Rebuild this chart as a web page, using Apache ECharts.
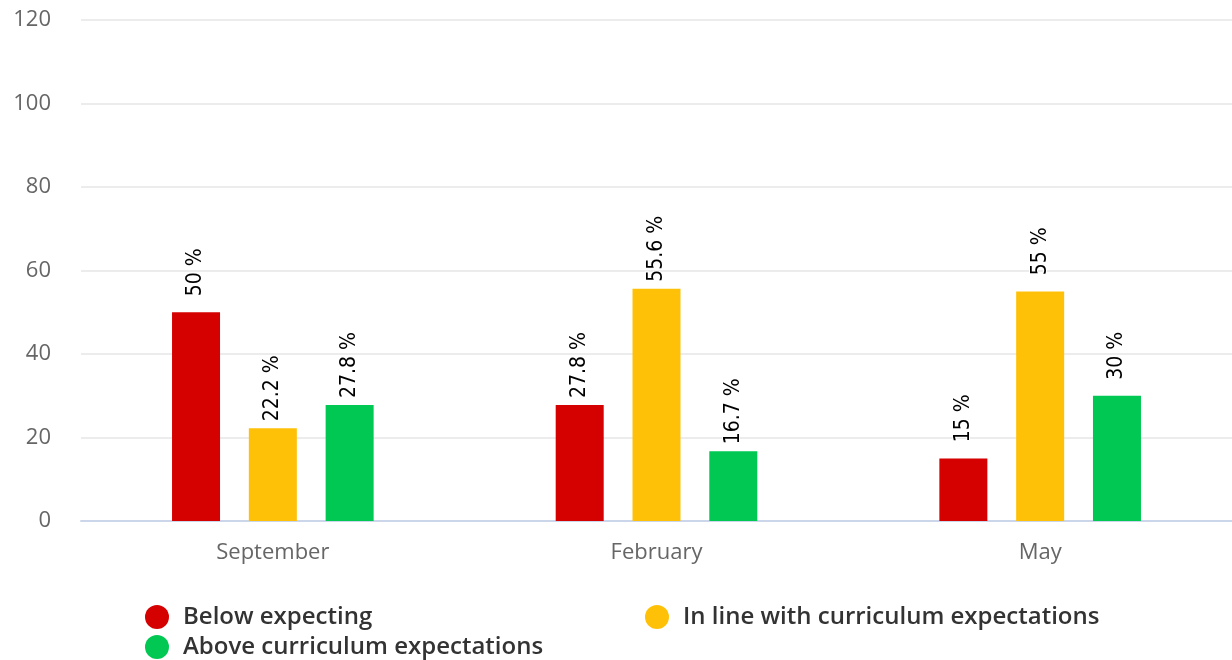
<!DOCTYPE html>
<html>
<head>
<meta charset="utf-8">
<script src="https://cdn.jsdelivr.net/npm/echarts@6/dist/echarts.min.js"></script>
<style>html,body{margin:0;padding:0;background:#fff}#c{width:1232px;height:660px}</style>
</head>
<body>
<div id="c"></div>
<script>
var categories = ['September', 'February', 'May'];
var seriesNames = ['Below expecting', 'In line with curriculum expectations', 'Above curriculum expectations'];
var belowValues = [50, 27.8, 15];
var inLineValues = [22.2, 55.6, 55];
var aboveValues = [27.8, 16.7, 30];
var seriesColors = ['#D50000', '#FFC107', '#00C853'];
var yTicks = { min: 0, max: 120, interval: 20 };

var chart = echarts.init(document.getElementById('c'), null, { renderer: 'canvas' });
var labelCfg = {
  show: true,
  position: 'top',
  rotate: 90,
  align: 'center',
  verticalAlign: 'middle',
  distance: 40,
  color: '#000',
  fontFamily: "'DejaVu Sans Condensed', 'DejaVu Sans'",
  fontWeight: 'normal',
  fontSize: 21,
  textBorderColor: '#fff',
  textBorderWidth: 2,
  formatter: function (p) { return p.value + ' %'; }
};
function mk(i, data) {
  return {
    name: seriesNames[i], type: 'bar', data: data,
    barWidth: 48, barGap: '60%',
    itemStyle: { color: seriesColors[i] },
    label: labelCfg
  };
}
chart.setOption({
  animation: false,
  grid: { left: 81, right: 0, top: 20, bottom: 139, containLabel: false },
  legend: {
    left: 140, top: 599, width: 1000,
    orient: 'horizontal',
    icon: 'circle', itemWidth: 24, itemHeight: 24, itemGap: 4,
    textStyle: {
      fontFamily: 'Open Sans', fontSize: 24, fontWeight: 600, color: '#333',
      width: 458, overflow: 'none', padding: [0, 0, 0, 9], lineHeight: 26
    },
    data: seriesNames
  },
  xAxis: {
    type: 'category', data: categories,
    axisTick: { show: false },
    axisLine: { lineStyle: { color: '#ccd6eb', width: 2 } },
    axisLabel: { color: '#666', fontFamily: 'Open Sans', fontSize: 22, margin: 21 }
  },
  yAxis: {
    type: 'value', min: yTicks.min, max: yTicks.max, interval: yTicks.interval,
    axisLine: { show: false }, axisTick: { show: false },
    splitLine: { lineStyle: { color: '#e6e6e6', width: 1.5 } },
    axisLabel: { color: '#666', fontFamily: 'Open Sans', fontSize: 22, margin: 30 }
  },
  series: [mk(0, belowValues), mk(1, inLineValues), mk(2, aboveValues)]
});
</script>
</body>
</html>
